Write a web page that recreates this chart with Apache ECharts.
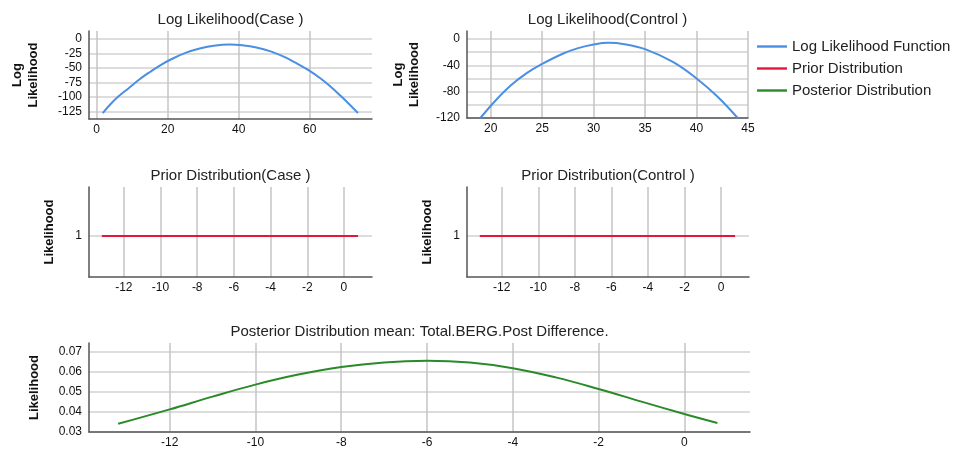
<!DOCTYPE html>
<html>
<head>
<meta charset="utf-8">
<script src="https://cdn.jsdelivr.net/npm/echarts@6/dist/echarts.min.js"></script>
<style>
html, body { margin: 0; padding: 0; background: #fff; }
#main { width: 956px; height: 451px; }
</style>
</head>
<body>
<div id="main"></div>
<script>
// values
const caseLL_x = [1.7, 4, 6, 9, 12, 15, 18, 21, 25, 29, 33, 37.5, 41, 45, 49, 53, 56, 60, 63, 66, 69, 71.5, 73.6];
const caseLL_y = [-128, -112, -100, -85, -70, -57, -45, -35, -24, -16.5, -11.5, -9.6, -10.8, -14.6, -21.5, -31.5, -41, -55, -68, -83, -100, -115, -128];
const ctrlLL_x = [19.0, 20.5, 22, 23.5, 25, 27, 28.5, 30, 31.4, 33, 35, 37.7, 40, 42, 44];
const ctrlLL_y = [-120, -93, -70, -52, -38, -22.5, -14, -8.5, -6, -8, -15.5, -35, -60, -87, -120];
const prior_x = [-13.2, 0.77];
const prior_y = [1, 1];
const post_x = [-13.2, -12, -11, -10, -9, -8, -7, -6, -5, -4, -3, -2, -1, 0, 0.77];
const post_y = [0.0341, 0.0413, 0.0477, 0.0537, 0.0587, 0.0625, 0.0648, 0.0656, 0.0647, 0.0619, 0.0573, 0.0515, 0.0452, 0.039, 0.0345];

const caseTicksX = [0, 20, 40, 60];
const caseTicksY = [-125, -100, -75, -50, -25, 0];
const ctrlTicksX = [20, 25, 30, 35, 40, 45];
const ctrlGridY = [-120, -100, -80, -60, -40, -20, 0];
const ctrlLabelsY = [-120, -80, -40, 0];
const diffTicksX = [-12, -10, -8, -6, -4, -2, 0];
const priorTicksY = [1];
const postTicksY = [0.03, 0.04, 0.05, 0.06, 0.07];

const FONT = 'Liberation Sans, Arial, sans-serif';
const BLUE = '#4a8fe3', RED = '#e3173e', GREEN = '#2a8a2a';

function pairs(xs, ys) {
    return xs.map(function (x, i) { return [x, ys[i]]; });
}

function xAxisCfg(idx, min, max, ticks, fmt) {
    return {
        type: 'value', gridIndex: idx, min: min, max: max,
        axisLine: { show: true, onZero: false, lineStyle: { color: '#555', width: 1.5 } },
        axisTick: { show: false, customValues: ticks },
        axisLabel: { customValues: ticks, margin: 5, color: '#111', fontSize: 12, fontFamily: FONT, formatter: fmt },
        splitLine: { show: true, lineStyle: { color: '#c4c4c4', width: 1.5 } }
    };
}

function yAxisCfg(idx, min, max, gridTicks, labelTicks, name, gap, fmt) {
    return {
        type: 'value', gridIndex: idx, min: min, max: max,
        name: name, nameLocation: 'middle', nameGap: gap,
        nameTextStyle: { fontWeight: 'bold', fontSize: 13, color: '#111', fontFamily: FONT, lineHeight: 16 },
        axisLine: { show: true, onZero: false, lineStyle: { color: '#555', width: 1.5 } },
        axisTick: { show: false, customValues: gridTicks },
        axisLabel: { customValues: labelTicks, margin: 7, color: '#111', fontSize: 12, fontFamily: FONT, formatter: fmt },
        splitLine: { show: true, lineStyle: { color: '#d2d2d2', width: 1.5 } }
    };
}

function lineSeries(name, xi, data, color) {
    return {
        name: name, type: 'line', xAxisIndex: xi, yAxisIndex: xi,
        data: data, symbol: 'none', smooth: 0.4, silent: true,
        lineStyle: { color: color, width: 2 }, itemStyle: { color: color }
    };
}

function titleText(text, x, y) {
    return {
        type: 'text', x: x, y: y, silent: true,
        style: { text: text, align: 'center', verticalAlign: 'middle', fill: '#222', font: '15px ' + FONT }
    };
}

const chart = echarts.init(document.getElementById('main'));

const option = {
    animation: false,
    legend: {
        orient: 'vertical', left: 757, top: 39, padding: 0,
        itemWidth: 30, itemHeight: 14, itemGap: 7,
        icon: 'path://M0,0H30V2.4H0Z', symbolKeepAspect: true,
        textStyle: { fontSize: 15, color: '#222', fontFamily: FONT },
        data: ['Log Likelihood Function', 'Prior Distribution', 'Posterior Distribution']
    },
    grid: [
        { left: 89, top: 31, width: 283, height: 88, outerBoundsMode: 'none' },
        { left: 467, top: 31, width: 281, height: 87, outerBoundsMode: 'none' },
        { left: 89, top: 187, width: 283, height: 90, outerBoundsMode: 'none' },
        { left: 467, top: 187, width: 282, height: 90, outerBoundsMode: 'none' },
        { left: 89, top: 343, width: 661, height: 89, outerBoundsMode: 'none' }
    ],
    xAxis: [
        xAxisCfg(0, -2.17, 77.55, caseTicksX),
        xAxisCfg(1, 17.7, 45, ctrlTicksX),
        xAxisCfg(2, -13.9, 1.53, diffTicksX),
        xAxisCfg(3, -13.9, 1.53, diffTicksX),
        xAxisCfg(4, -13.88, 1.53, diffTicksX)
    ],
    yAxis: [
        yAxisCfg(0, -138.3, 13.8, caseTicksY, caseTicksY, 'Log\nLikelihood', 48),
        yAxisCfg(1, -120, 12, ctrlGridY, ctrlLabelsY, 'Log\nLikelihood', 45),
        yAxisCfg(2, 0, 2.2, priorTicksY, priorTicksY, 'Likelihood', 32),
        yAxisCfg(3, 0, 2.2, priorTicksY, priorTicksY, 'Likelihood', 32),
        yAxisCfg(4, 0.03, 0.0745, postTicksY, postTicksY, 'Likelihood', 47, function (v) { return v.toFixed(2); })
    ],
    series: [
        lineSeries('Log Likelihood Function', 0, pairs(caseLL_x, caseLL_y), BLUE),
        lineSeries('Log Likelihood Function', 1, pairs(ctrlLL_x, ctrlLL_y), BLUE),
        lineSeries('Prior Distribution', 2, pairs(prior_x, prior_y), RED),
        lineSeries('Prior Distribution', 3, pairs(prior_x, prior_y), RED),
        lineSeries('Posterior Distribution', 4, pairs(post_x, post_y), GREEN)
    ],
    graphic: [
        titleText('Log Likelihood(Case )', 230.5, 20),
        titleText('Log Likelihood(Control )', 607.5, 20),
        titleText('Prior Distribution(Case )', 230.5, 176),
        titleText('Prior Distribution(Control )', 608, 176),
        titleText('Posterior Distribution mean: Total.BERG.Post Difference.', 419.5, 332)
    ]
};

chart.setOption(option);
</script>
</body>
</html>
